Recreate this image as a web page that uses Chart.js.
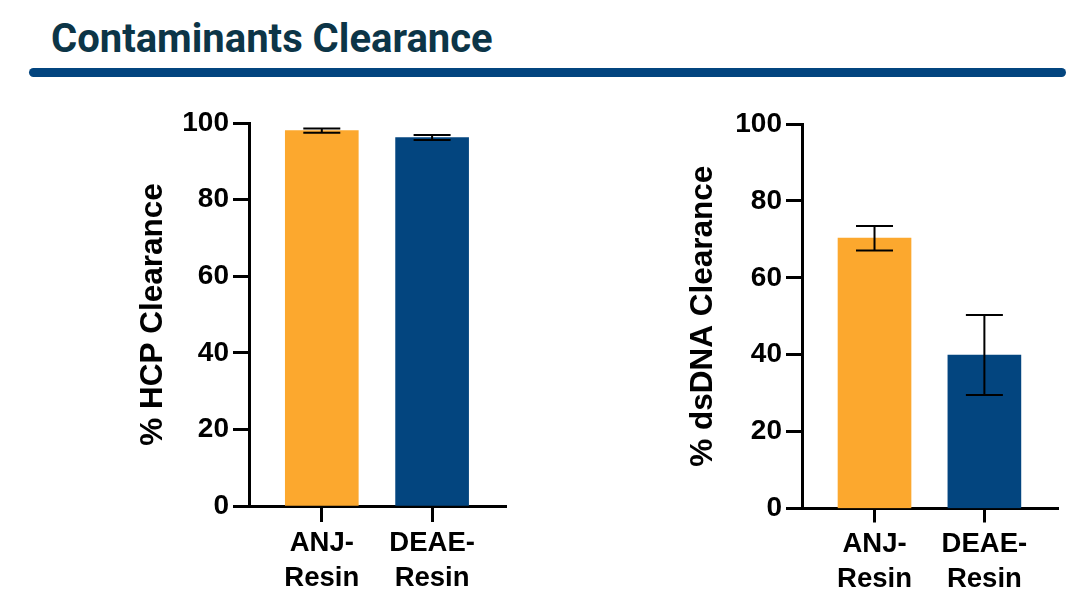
<!DOCTYPE html>
<html><head><meta charset="utf-8">
<script src="https://cdn.jsdelivr.net/npm/chart.js@4"></script>
<style>
body{margin:0;background:#fff;width:1087px;height:589px;overflow:hidden;position:relative}
#title{position:absolute;left:51px;top:19px;font:700 40px/40px Roboto,sans-serif;color:#0c3547;white-space:nowrap}
#rule{position:absolute;left:29px;top:68px;width:1037px;height:9px;border-radius:4.5px;background:#03457f}
canvas{position:absolute}
</style></head><body>
<div id="title">Contaminants Clearance</div>
<div id="rule"></div>
<canvas id="hcp" width="440" height="499" style="left:100px;top:90px"></canvas>
<canvas id="dna" width="447" height="499" style="left:640px;top:90px"></canvas>
<script>
// Resins compared (two-line axis labels)
const categories = [["ANJ-", "Resin"], ["DEAE-", "Resin"]];
// % HCP clearance: mean and error
const hcpMean = [98.0, 96.2];
const hcpErr = [0.55, 0.65];
// % dsDNA clearance: mean and error
const dnaMean = [70.3, 39.9];
const dnaErr = [3.2, 10.4];
const yTickValues = [0, 20, 40, 60, 80, 100];
const barColors = ["#fca82e", "#03457f"];

const FONT = "'Liberation Sans', Arial, sans-serif";

// Draws mean ± error whiskers with caps on top of each bar
const errorBars = {
  id: "errorBars",
  afterDatasetsDraw(chart) {
    const ds = chart.data.datasets[0];
    const xs = chart.scales.x, ys = chart.scales.y;
    const ctx = chart.ctx;
    ctx.save();
    ctx.strokeStyle = "#000";
    ctx.lineWidth = 2;
    ds.data.forEach((pt, i) => {
      const e = ds.errors[i];
      const x = xs.getPixelForValue(pt.x);
      const yHi = ys.getPixelForValue(pt.y + e);
      const yLo = ys.getPixelForValue(pt.y - e);
      const half = 18.5;
      ctx.beginPath();
      ctx.moveTo(x, yHi); ctx.lineTo(x, yLo);
      ctx.moveTo(x - half, yHi); ctx.lineTo(x + half, yHi);
      ctx.moveTo(x - half, yLo); ctx.lineTo(x + half, yLo);
      ctx.stroke();
    });
    ctx.restore();
  }
};

function makeChart(id, means, errs, titleText, geo) {
  return new Chart(document.getElementById(id), {
    type: "bar",
    data: {
      datasets: [{
        data: means.map((v, i) => ({ x: i + 1, y: v })),
        errors: errs,
        backgroundColor: barColors,
        borderWidth: 0,
        barThickness: 73
      }]
    },
    options: {
      responsive: false,
      animation: false,
      devicePixelRatio: 1,
      layout: { padding: { top: geo.top, right: geo.right, left: 0, bottom: 0 } },
      plugins: { legend: { display: false }, tooltip: { enabled: false } },
      scales: {
        x: {
          type: "linear",
          offset: false,
          min: 0.34, max: 2.67,
          afterFit(s) { s.height = geo.xHeight; },
          afterBuildTicks(s) { s.ticks = categories.map((c, i) => ({ value: i + 1 })); },
          grid: { offset: false, drawOnChartArea: false, drawTicks: true, tickLength: geo.xTick, tickWidth: 3, tickColor: "#000" },
          border: { display: true, width: 3, color: "#000" },
          ticks: {
            padding: 4,
            color: "#000",
            maxRotation: 0,
            autoSkip: false,
            font: { family: FONT, size: 27.5, weight: "bold", lineHeight: 1.28 },
            callback: (v) => categories[v - 1]
          }
        },
        y: {
          min: 0, max: 100,
          afterFit(s) { s.width = geo.yWidth; },
          afterBuildTicks(s) { s.ticks = yTickValues.map(v => ({ value: v })); },
          grid: { drawOnChartArea: false, drawTicks: true, tickLength: 16, tickWidth: 3, tickColor: "#000" },
          border: { display: true, width: 3, color: "#000" },
          ticks: { padding: 4, color: "#000", font: { family: FONT, size: 28, weight: "bold" } },
          title: {
            display: true, text: titleText, color: "#000",
            font: { family: FONT, size: 31.5, weight: "bold" },
            padding: { top: geo.titlePad, bottom: 0 }
          }
        }
      }
    },
    plugins: [errorBars]
  });
}

makeChart("hcp", hcpMean, hcpErr, "% HCP Clearance",
  { top: 33, right: 34, xHeight: 83, xTick: 16, yWidth: 149, titlePad: 34 });
makeChart("dna", dnaMean, dnaErr, "% dsDNA Clearance",
  { top: 34, right: 29, xHeight: 80.5, xTick: 14, yWidth: 162, titlePad: 44 });
</script>
</body></html>
